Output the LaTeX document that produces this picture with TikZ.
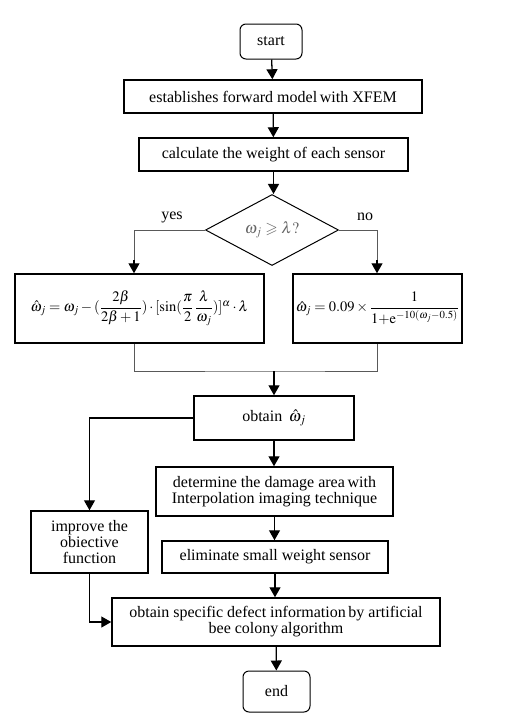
\documentclass[tikz,border=0pt]{standalone}
\usepackage{amsmath,amssymb}
\usepackage{mathptmx}
\usepackage{fontspec}
\setmainfont{Liberation Serif}
\usetikzlibrary{shapes.geometric,arrows.meta}

\begin{document}
\begin{tikzpicture}[x=1pt,y=-1pt,
    font=\fontsize{16}{16}\selectfont,
    box/.style={draw, line width=1.5pt, align=center, inner sep=0pt},
    term/.style={box, rounded corners=6pt, line width=1pt},
    formula/.style={box, font=\fontsize{14.5}{15}\selectfont},
    decide/.style={draw, diamond, line width=1pt, inner sep=0pt,
      minimum width=133pt, minimum height=71pt},
    flow/.style={line width=1.3pt, -{Triangle[length=10pt,width=11pt]}},
    mergeline/.style={line width=0.9pt, gray!70!black}]
  \useasboundingbox (0,0) rectangle (513,726);
  % top part
  \node[term, minimum width=62pt, minimum height=35pt] (start) at (271,41.5) {start};
  \node[box, minimum width=298pt, minimum height=33pt] (model) at (273,96.5)
    {establishes forward model\,with XFEM};
  \node[box, minimum width=269pt, minimum height=33pt] (weight) at (273.5,154.5)
    {calculate the weight of each sensor};
  \node[decide] (cond) at (272,230)
    {\textcolor{gray!80!black}{$\omega_j \geqslant \lambda ?$}};
  \draw[flow] (start) -- (model);
  \draw[flow] (model) -- (weight);
  \draw[flow] (weight.south) -- (weight.south |- cond.north);
  % two branches
  \node[formula, minimum width=249pt, minimum height=69pt] (yesbox) at (139.5,308.5)
    {$\hat{\omega}_j = \omega_j - (\dfrac{2\beta}{2\beta+1})\cdot
      [\sin(\dfrac{\pi}{2}\,\dfrac{\lambda}{\omega_j})]^{\alpha}\cdot\lambda$};
  \node[formula, minimum width=169pt, minimum height=69pt] (nobox) at (377.5,308.5)
    {$\hat{\omega}_j = 0.09\times\dfrac{1}{1{+}\mathrm{e}^{-10(\omega_j-0.5)}}$};
  \coordinate (yesturn) at (134,260);
  \coordinate (noturn) at (377,260);
  \draw[mergeline] (cond.west) -| (yesturn);
  \draw[flow] (yesturn) -- (yesturn |- yesbox.north);
  \draw[mergeline] (cond.east) -| (noturn);
  \draw[flow] (noturn) -- (noturn |- nobox.north);
  \node (yes) at (172,217) {yes};
  \node (no) at (365,217) {no};
  % merge
  \coordinate (merge) at (274,371);
  \draw[mergeline] (yesturn |- yesbox.south) |- (merge) -| (noturn |- nobox.south);
  \node[box, minimum width=160pt, minimum height=44pt] (obtain) at (274,418)
    {obtain \,$\hat{\omega}_j$};
  \draw[flow] (merge) -- (obtain);
  % lower part
  \node[box, minimum width=237pt, minimum height=49pt] (area) at (274.5,491.5)
    {determine the damage area\,with\\Interpolation imaging technique};
  \node[box, minimum width=117pt, minimum height=62pt] (improve) at (89.5,542)
    {improve the\\obiective\\function};
  \node[box, minimum width=226pt, minimum height=32pt] (small) at (275,557)
    {eliminate small weight sensor};
  \node[box, minimum width=328pt, minimum height=48pt] (abc) at (276,622)
    {obtain specific defect information\,by artificial\\bee colony\,algorithm};
  \node[term, minimum width=67pt, minimum height=41pt] (end) at (276.5,691.5) {end};
  \draw[flow] (obtain) -- (obtain |- area.north);
  \draw[flow] (area) -- (area |- small.north);
  \draw[flow] (small) -- (small |- abc.north);
  \draw[flow] (abc) -- (end);
  \draw[flow] (obtain.west) -| (improve.north);
  \draw[flow] (improve.south) |- (abc.west);
\end{tikzpicture}
\end{document}
